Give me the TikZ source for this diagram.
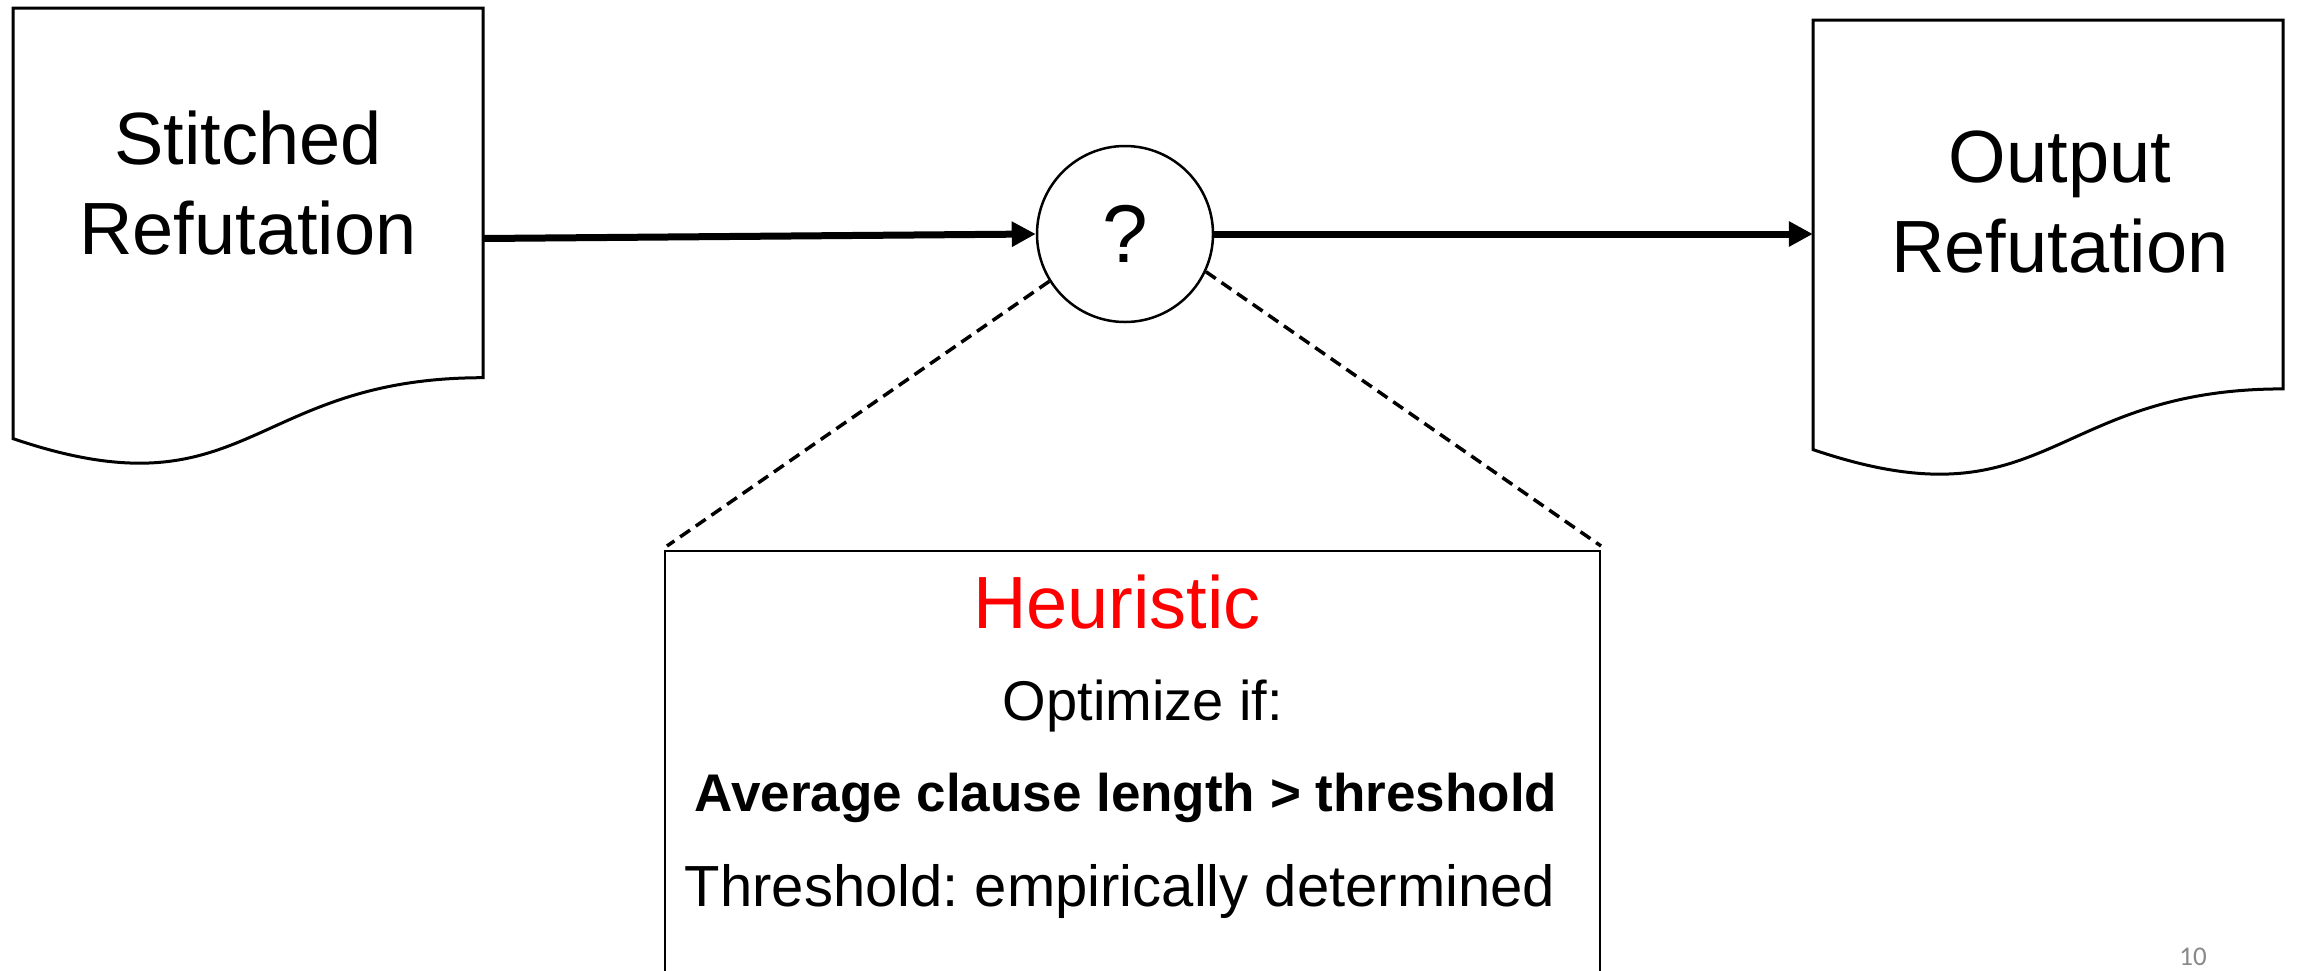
\documentclass[tikz,border=0pt]{standalone}
\usepackage{fontspec}
\setmainfont{Liberation Sans}
\newfontfamily\pagenumfont{Carlito}
\usetikzlibrary{arrows.meta}
\definecolor{heurred}{RGB}{255,0,0}
\definecolor{pagegray}{RGB}{137,137,137}
\frenchspacing
\begin{document}
\begin{tikzpicture}[x=1pt,y=-1pt,
  docline/.style={draw=black,line width=3pt,line join=miter},
  doctext/.style={align=center,inner sep=0pt,anchor=south,font=\fontsize{74}{90}\selectfont},
  flow/.style={line width=7pt,-{Triangle[length=24pt,width=24pt]}},
  zoomline/.style={line width=3.5pt,dash pattern=on 12pt off 7pt},
  boxtext/.style={inner sep=0pt,anchor=base},
]
\useasboundingbox (0,0) rectangle (2300,970);
\fill[white] (0,0) rectangle (2300,970);

% invisible frames of the two documents
\node[minimum width=470pt,minimum height=461pt,inner sep=0pt] (sr) at (248,238.5) {};
\node[minimum width=470pt,minimum height=460pt,inner sep=0pt] (or) at (2048,250) {};

% document outlines
\draw[docline] (13,8) -- (483,8) -- (483,377.7)
  .. controls (248,377.7) and (248,518.6) .. (13,438.6) -- cycle;
\draw[docline] (1813,20) -- (2283,20) -- (2283,388.9)
  .. controls (2048,388.9) and (2048,529.5) .. (1813,449.6) -- cycle;

\node[doctext] (srtext) at (248,255) {Stitched\\Refutation};
\node[doctext] (ortext) at (2060,273) {Output\\Refutation};

% decision circle
\node[circle,draw=black,line width=2.5pt,minimum size=176pt,inner sep=0pt,
      font=\fontsize{82}{90}\selectfont] (q) at (1125,234) {?};

% heuristic box
\node[draw=black,line width=2pt,minimum width=935pt,minimum height=440pt,inner sep=0pt,anchor=north west] (heur) at (664,550) {};

\node[boxtext,text=heurred,font=\fontsize{74}{90}\selectfont] (h1) at (1117,628) {Heuristic};
\node[boxtext,font=\fontsize{56}{60}\selectfont] (h2) at (1143,720) {Optimize if:};
\node[boxtext,font=\fontsize{53}{60}\selectfont\bfseries] (h3) at (1126,811) {Average clause length {>} threshold};
\node[boxtext,font=\fontsize{58}{60}\selectfont] (h4) at (1120,906) {Threshold: empirically determined};

% connectors
\draw[flow] (sr.east) -- (q.west);
\draw[flow] (q.east) -- (q.east -| or.west);
\draw[zoomline] (q.212) -- ([shift={(3,-4)}]heur.north west);
\draw[zoomline] (q.-25) -- ([shift={(0,-4)}]heur.north east);

% page number
\node[inner sep=0pt,anchor=base,text=pagegray,font=\pagenumfont\fontsize{27}{30}\selectfont] (pn) at (2193,965) {10};
\end{tikzpicture}
\end{document}
